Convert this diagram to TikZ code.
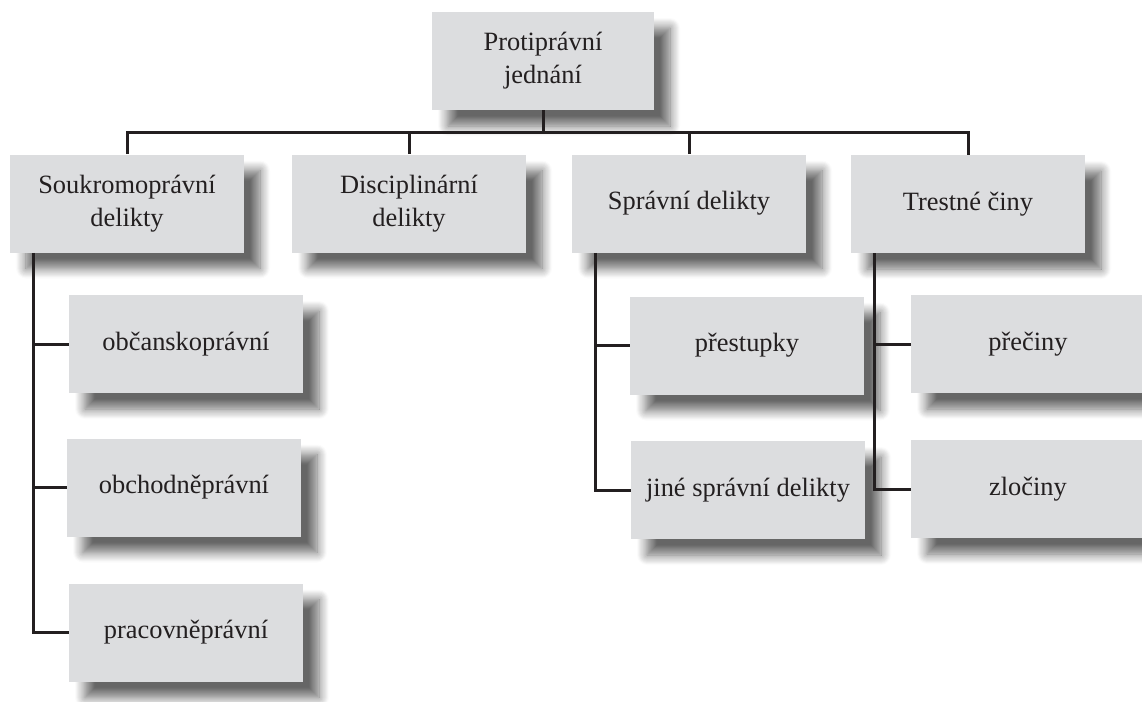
\documentclass[tikz,border=0pt]{standalone}
\usepackage{fontspec}
\setmainfont{Liberation Serif}
\usepackage{xcolor}
\usetikzlibrary{shadows.blur,calc,positioning}
\definecolor{boxgray}{HTML}{DCDDDF}
\definecolor{linedark}{HTML}{231F20}

\begin{document}
\begin{tikzpicture}[x=0.5pt,y=-0.5pt,font=\fontsize{13.2}{16.5}\selectfont,
  box/.style={fill=boxgray,text=linedark,align=center,inner sep=0pt,
    minimum width=117pt,minimum height=49pt,
    blur shadow={shadow xshift=8pt,shadow yshift=-8pt,shadow blur radius=5pt,shadow blur steps=10,shadow opacity=60}},
  conn/.style={draw=linedark,line width=1.5pt}]
\useasboundingbox (0,0) rectangle (1142,702);
% top level
\node[box,minimum width=111pt] (jednani) at (543,61) {Protiprávní\\jednání};
\node[box] (soukr) at (127,203.5) {Soukromoprávní\\delikty};
\node[box] (discip) at (409,203.5) {Disciplinární\\delikty};
\node[box] (spravni) at (689,203.5) {Správní delikty};
\node[box] (trestne) at (968,204) {Trestné činy};
% second level
\node[box] (obc) at (186,344) {občanskoprávní};
\node[box] (obch) at (184,487.5) {obchodněprávní};
\node[box] (prac) at (186,632.5) {pracovněprávní};
\node[box] (prest) at (747,345.5) {přestupky};
\node[box] (jine) at (748,490) {jiné správní delikty};
\node[box] (precin) at (1028,344) {přečiny};
\node[box] (zloc) at (1028,489) {zločiny};
% connectors
\coordinate (bus) at ($(jednani.south)!0.5!(discip.north)$);
\draw[conn] (jednani.south) -- (jednani.south |- bus);
\draw[conn] (soukr.north) |- (bus) -| (trestne.north);
\foreach \top in {discip,spravni}
  \draw[conn] (\top.north) -- (\top.north |- bus);
\foreach \grp/\kids/\last in {soukr/{obc,obch}/prac,spravni/{prest}/jine,trestne/{precin}/zloc} {
  \coordinate (spine) at ($(\grp.south west)+(24,0)$);
  \draw[conn] (spine) |- (\last.west);
  \foreach \k in \kids
    \draw[conn] (\k.west) -- (\k.west -| spine);
}
\end{tikzpicture}
\end{document}
